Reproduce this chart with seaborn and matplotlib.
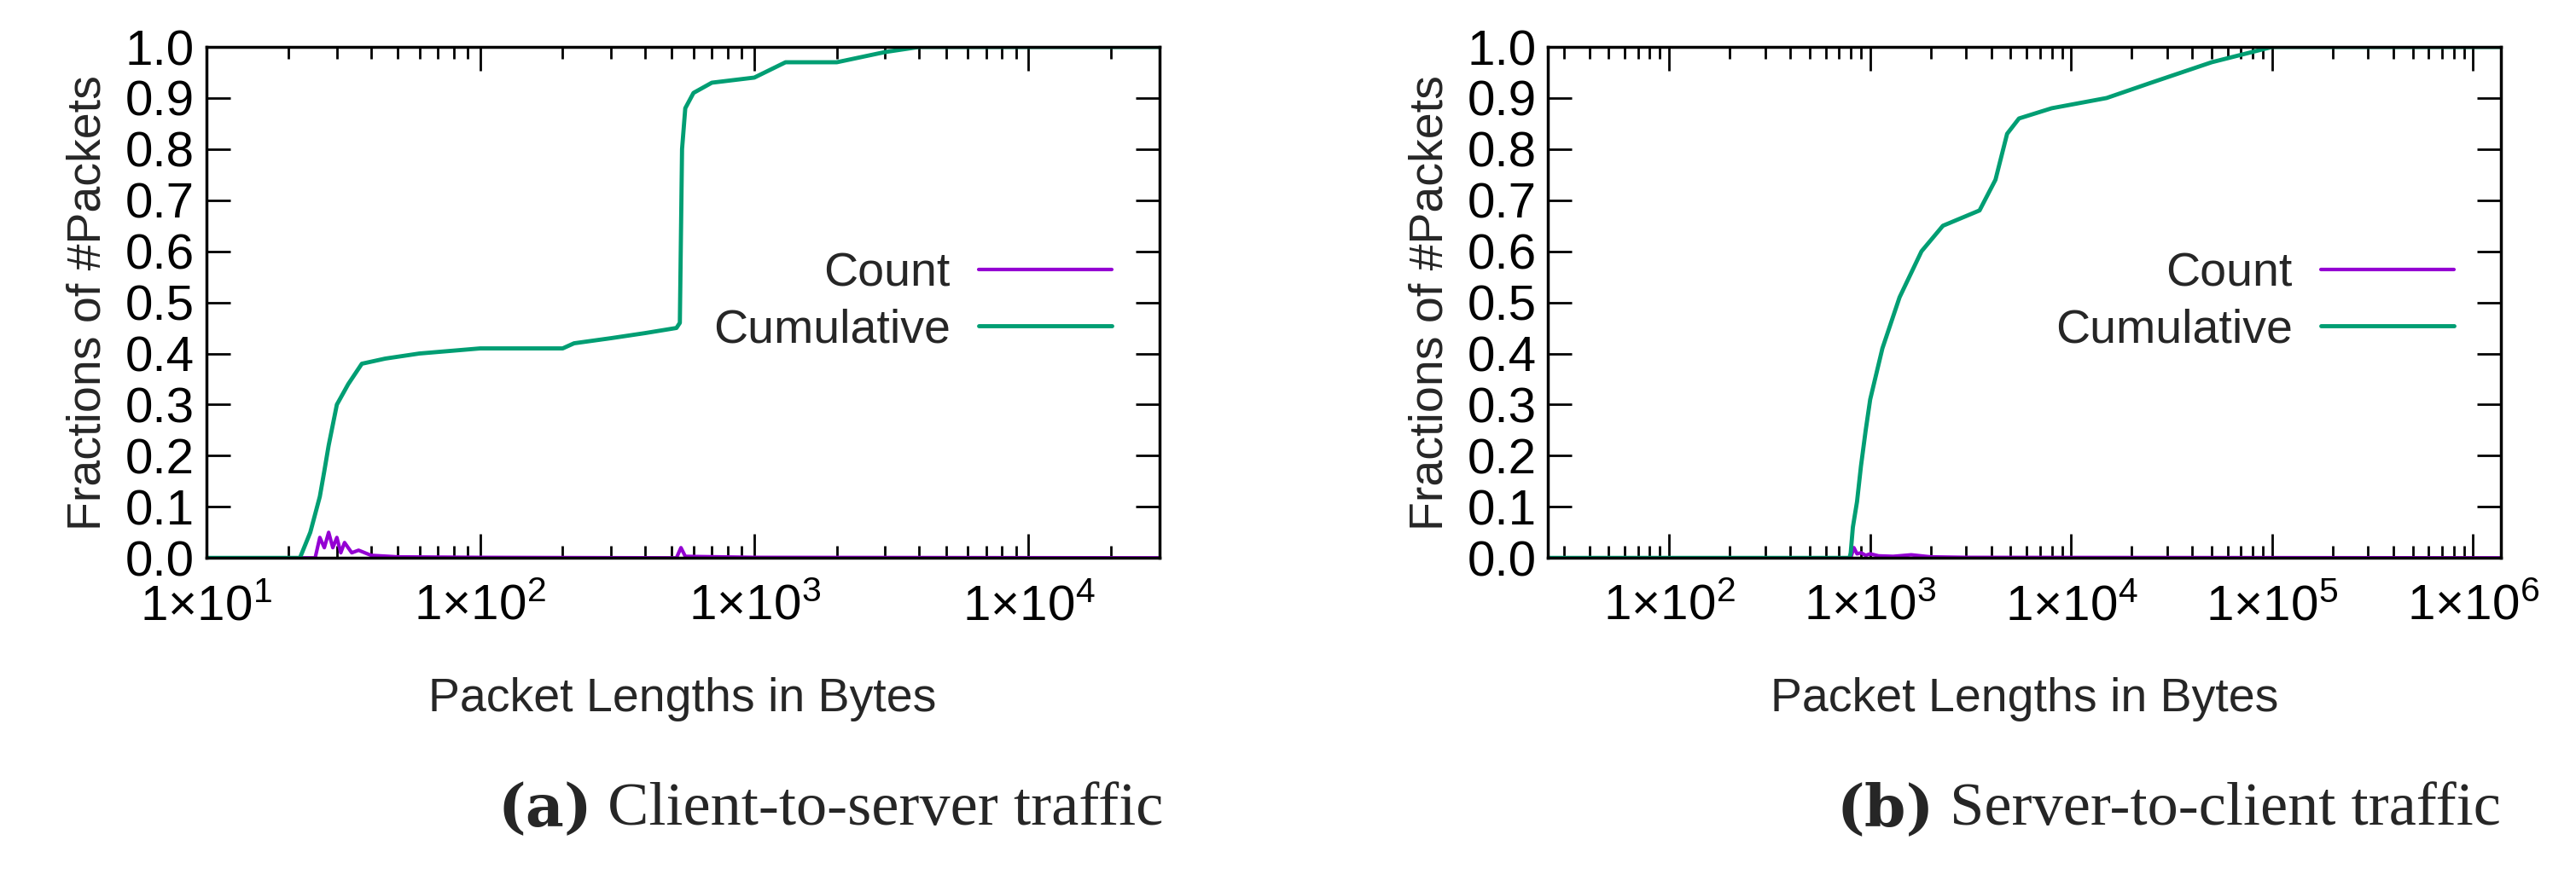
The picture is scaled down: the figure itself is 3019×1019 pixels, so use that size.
import numpy as np
import pandas as pd
import matplotlib
matplotlib.use("Agg")
import matplotlib.pyplot as plt
import matplotlib.ticker as mticker
import seaborn as sns

sns.set_style("ticks")
plt.rcParams["font.family"] = ["Liberation Sans", "DejaVu Sans"]
plt.rcParams["mathtext.fontset"] = "custom"
plt.rcParams["mathtext.rm"] = "Liberation Sans"
plt.rcParams["mathtext.default"] = "regular"

PURPLE = "#9400d3"
GREEN = "#009e73"

# client-to-server
c2s_cum_x = [10, 22, 24, 26, 27, 28, 30, 33, 37, 45, 60, 100, 200, 220, 300, 400, 520, 535,
             545, 560, 600, 700, 1000, 1300, 2000, 3000, 4000, 30000]
c2s_cum_y = [0, 0, 0.05, 0.12, 0.17, 0.22, 0.30, 0.34, 0.38, 0.39, 0.40, 0.41, 0.41, 0.42,
             0.43, 0.44, 0.45, 0.46, 0.80, 0.88, 0.91, 0.93, 0.94, 0.97, 0.97, 0.99, 1.0, 1.0]
c2s_cnt_x = [10, 25, 26, 27, 28, 29, 30, 31, 32, 34, 36, 40, 50, 100, 520, 540, 560, 1000, 30000]
c2s_cnt_y = [0, 0, 0.04, 0.02, 0.05, 0.02, 0.04, 0.01, 0.03, 0.01, 0.015, 0.005, 0.002, 0.001,
             0.0, 0.02, 0.003, 0.001, 0]

# server-to-client
s2c_cum_x = [25, 790, 800, 820, 860, 900, 950, 1000, 1150, 1400, 1800, 2300, 3500, 4200,
             4800, 5500, 8000, 15000, 25000, 50000, 100000, 1380000]
s2c_cum_y = [0, 0, 0.01, 0.06, 0.11, 0.18, 0.25, 0.31, 0.41, 0.51, 0.60, 0.65, 0.68, 0.74,
             0.83, 0.86, 0.88, 0.90, 0.93, 0.97, 1.0, 1.0]
s2c_cnt_x = [25, 800, 830, 860, 900, 950, 1000, 1100, 1300, 1600, 2000, 3000, 1380000]
s2c_cnt_y = [0, 0, 0.02, 0.008, 0.01, 0.005, 0.008, 0.004, 0.003, 0.006, 0.002, 0.001, 0]

fig = plt.figure(figsize=(30.19, 10.19), dpi=100)
axes = [fig.add_axes([0.080, 0.358, 0.370, 0.588]), fig.add_axes([0.601, 0.358, 0.370, 0.588])]
panels = [
    (c2s_cnt_x, c2s_cnt_y, c2s_cum_x, c2s_cum_y, (10, 30000), [10, 100, 1000, 10000]),
    (s2c_cnt_x, s2c_cnt_y, s2c_cum_x, s2c_cum_y, (25, 1380000), [100, 1000, 10000, 100000, 1000000]),
]
captions = [("(a)", " Client-to-server traffic"), ("(b)", " Server-to-client traffic")]

for ax, (cx, cy, ux, uy, xlim, ticks), cap in zip(axes, panels, captions):
    sns.lineplot(x=cx, y=cy, ax=ax, color=PURPLE, lw=3, label="Count")
    sns.lineplot(x=ux, y=uy, ax=ax, color=GREEN, lw=3.5, label="Cumulative")
    ax.set_xscale("log")
    ax.set_xlim(*xlim)
    ax.set_ylim(0, 1)
    ax.set_yticks(np.arange(0, 1.01, 0.1))
    ax.yaxis.set_major_formatter(mticker.FormatStrFormatter("%.1f"))
    ax.set_xticks(ticks)
    ax.set_xticklabels([r"$1{\times}10^{%d}$" % int(round(np.log10(t))) for t in ticks])
    ax.xaxis.set_minor_locator(mticker.LogLocator(subs=np.arange(2, 10)))
    ax.xaxis.set_minor_formatter(mticker.NullFormatter())
    ax.tick_params(which="both", direction="in", top=True, right=True, labelsize=42,
                   width=2, colors="black")
    ax.tick_params(which="major", length=20, pad=10)
    ax.tick_params(axis="x", which="major", pad=22)
    ax.tick_params(which="minor", length=10)
    for s in ax.spines.values():
        s.set_linewidth(2.5)
        s.set_color("black")
    ax.set_xlabel("Packet Lengths in Bytes", fontsize=40, labelpad=40)
    ax.set_ylabel("Fractions of #Packets", fontsize=40, labelpad=12)
    ax.legend(loc="center right", bbox_to_anchor=(0.97, 0.5), frameon=False, fontsize=40,
              markerfirst=False, handlelength=2.8, handletextpad=0.6, labelspacing=0.25,
              borderaxespad=0)
    bb = ax.get_position()
    cx_mid = (bb.x0 + bb.x1) / 2 - 0.035
    fig.text(cx_mid, 0.068, cap[0], fontsize=50, fontweight="bold", family="DejaVu Serif",
             ha="right", va="center")
    fig.text(cx_mid, 0.068, cap[1], fontsize=52, family="Liberation Serif", ha="left", va="center")

fig.savefig("out.png", dpi=100)
